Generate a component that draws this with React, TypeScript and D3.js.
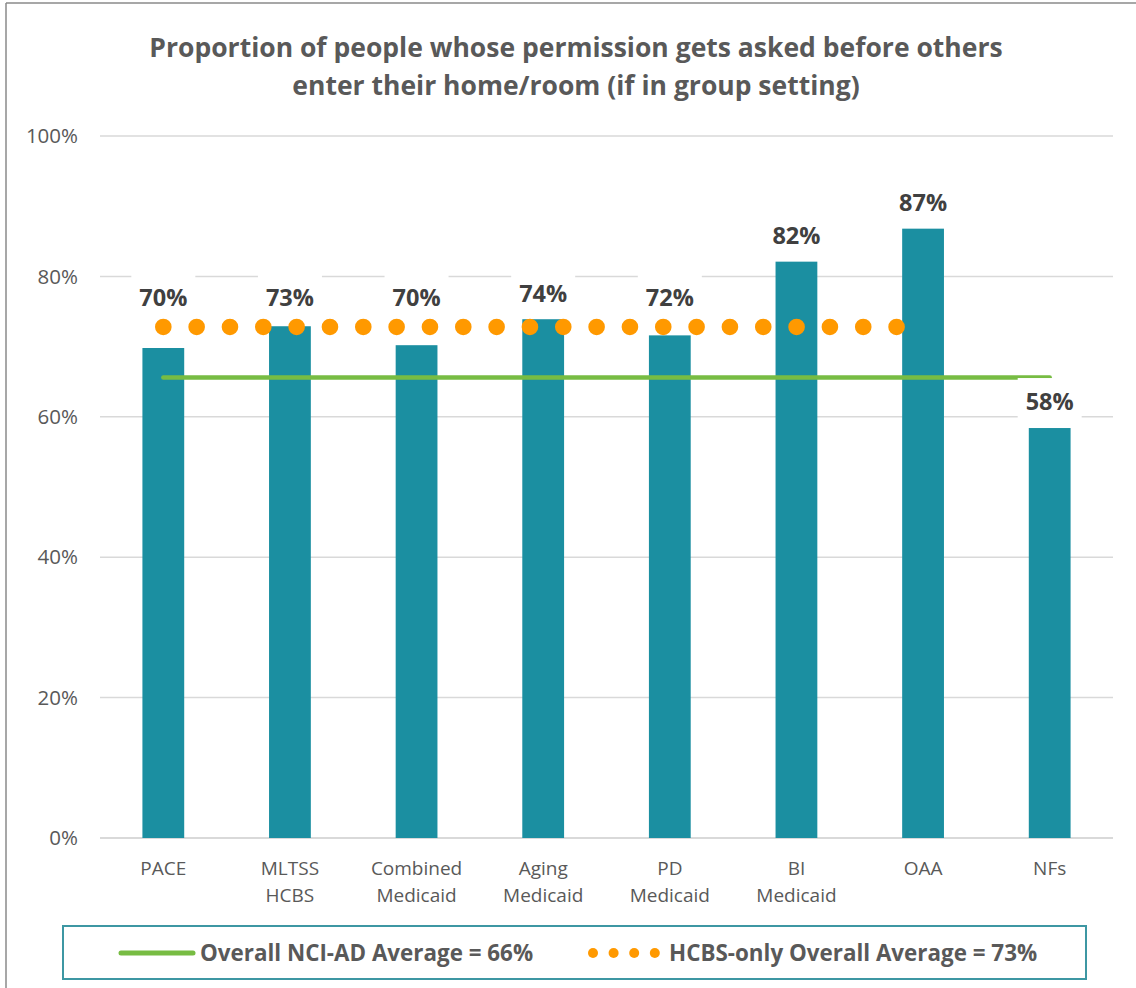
import React from "react";
import * as d3 from "d3";

const categories = ["PACE", "MLTSS HCBS", "Combined Medicaid", "Aging Medicaid", "PD Medicaid", "BI Medicaid", "OAA", "NFs"];
const values = [0.698, 0.729, 0.702, 0.739, 0.716, 0.821, 0.868, 0.584];
const overallAvg = 0.656;
const hcbsAvg = 0.728;
const hcbsCategories = ["PACE", "MLTSS HCBS", "Combined Medicaid", "Aging Medicaid", "PD Medicaid", "BI Medicaid", "OAA"];
const yTicks = [0, 0.2, 0.4, 0.6, 0.8, 1.0];
const titleLines = ["Proportion of people whose permission gets asked before others", "enter their home/room (if in group setting)"];
const legendLabels = ["Overall NCI-AD Average = 66%", "HCBS-only Overall Average = 73%"];

const W = 1136;
const H = 988;
const FONT = "'Open Sans', 'DejaVu Sans', sans-serif";
const GREY = "#595959";
const TEAL = "#1b8fa1";
const GREEN = "#77bc43";
const ORANGE = "#ff9900";

export default function App() {
  const x = d3.scaleBand<string>().domain(categories).range([100, 1113]).paddingInner(0.67).paddingOuter(0.335);
  const y = d3.scaleLinear().domain([0, 1]).range([838, 136]);
  const cx = (c: string) => (x(c) as number) + x.bandwidth() / 2;
  const fmt = d3.format(".0%");

  const lineGen = d3.line<[string, number]>().x((d) => cx(d[0])).y((d) => y(d[1]));
  const greenPath = lineGen(categories.map((c) => [c, overallAvg] as [string, number])) || "";
  const orangePath = lineGen(hcbsCategories.map((c) => [c, hcbsAvg] as [string, number])) || "";

  const dotY = y(hcbsAvg);
  const labelCenter = (c: string, v: number) => {
    const base = y(v) - 26;
    return hcbsCategories.includes(c) ? Math.min(base, dotY - 29) : base;
  };

  return (
    <div style={{ position: "absolute", left: 0, top: 0 }}>
      <svg width={W} height={H} style={{ display: "block", background: "#fff" }}>
        {/* frame */}
        <line x1={6} y1={3} x2={W} y2={3} stroke="#8a8a8a" strokeWidth={1.5} />
        <line x1={6} y1={3} x2={6} y2={H} stroke="#8a8a8a" strokeWidth={1.5} />

        {/* title */}
        {titleLines.map((t, i) => (
          <text key={t} x={576} y={57 + i * 38} textAnchor="middle" fontFamily={FONT} fontWeight={700} fontSize={26.5} fill={GREY}>
            {t}
          </text>
        ))}

        {/* gridlines */}
        {yTicks.map((t) => (
          <g key={t}>
            <line x1={100} x2={1113} y1={y(t)} y2={y(t)} stroke="#d9d9d9" strokeWidth={t === 0 ? 2 : 1.5} />
            <text x={78} y={y(t)} dy="0.35em" textAnchor="end" fontFamily={FONT} fontSize={20.5} fill={GREY}>
              {fmt(t)}
            </text>
          </g>
        ))}

        {/* bars */}
        {categories.map((c, i) => (
          <rect key={c} x={x(c)} y={y(values[i])} width={x.bandwidth()} height={y(0) - y(values[i])} fill={TEAL} />
        ))}

        {/* x labels */}
        {categories.map((c) => (
          <text key={c} textAnchor="middle" fontFamily={FONT} fontSize={19} fill={GREY}>
            {c.split(" ").map((w, j) => (
              <tspan key={j} x={cx(c)} y={875 + j * 27}>
                {w}
              </tspan>
            ))}
          </text>
        ))}

        {/* overall avg line */}
        <path d={greenPath} fill="none" stroke={GREEN} strokeWidth={4.5} strokeLinecap="round" />

        {/* data labels */}
        {categories.map((c, i) => {
          const cy = labelCenter(c, values[i]);
          return (
            <g key={c}>
              <rect x={cx(c) - 32} y={cy - 24} width={64} height={48} fill="#fff" />
              <text x={cx(c)} y={cy} dy="0.36em" textAnchor="middle" fontFamily={FONT} fontWeight={700} fontSize={23.5} fill="#404040">
                {fmt(values[i])}
              </text>
            </g>
          );
        })}

        {/* HCBS dotted line */}
        <path d={orangePath} fill="none" stroke={ORANGE} strokeWidth={16.6} strokeLinecap="round" strokeDasharray="0 33.33" />

        {/* legend */}
        <rect x={63} y={926} width={1023} height={53} fill="#fff" stroke="#3d97a3" strokeWidth={2} />
        <line x1={121} x2={193} y1={953} y2={953} stroke={GREEN} strokeWidth={5} strokeLinecap="round" />
        <text x={200} y={961} fontFamily={FONT} fontWeight={700} fontSize={22.4} fill={GREY}>
          {legendLabels[0]}
        </text>
        {[0, 1, 2, 3].map((k) => (
          <circle key={k} cx={593 + k * 20.6} cy={953} r={5} fill={ORANGE} />
        ))}
        <text x={669} y={961} fontFamily={FONT} fontWeight={700} fontSize={22.4} fill={GREY}>
          {legendLabels[1]}
        </text>
      </svg>
    </div>
  );
}
